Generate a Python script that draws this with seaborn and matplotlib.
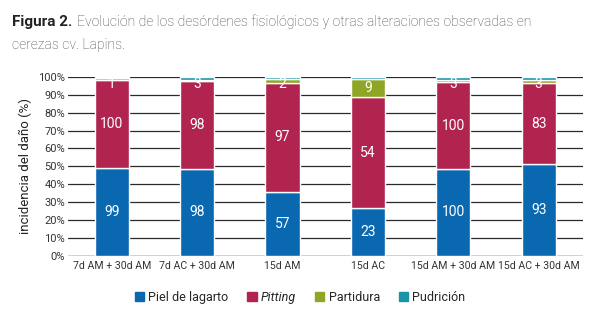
import matplotlib
matplotlib.use("Agg")
import matplotlib.pyplot as plt
import seaborn as sns
import pandas as pd
import numpy as np

categories = ["7d AM + 30d AM", "7d AC + 30d AM", "15d AM", "15d AC",
              "15d AM + 30d AM", "15d AC + 30d AM"]
piel = [99, 98, 57, 23, 100, 93]
pitting = [100, 98, 97, 54, 100, 83]
partidura = [2, 2, 3, 9, 3, 3]
pudricion = [1, 3, 2, 1, 3, 3]
series_names = ["Piel de lagarto", "Pitting", "Partidura", "Pudrición"]
label_piel = ["99", "98", "57", "23", "100", "93"]
label_pitting = ["100", "98", "97", "54", "100", "83"]
label_partidura = ["", "", "", "9", "", ""]
label_pudricion = ["1", "3", "2", "", "3", "3"]
colors = ["#0a68b0", "#b0244f", "#8ea526", "#1a95a8"]

sns.set_style("white")
plt.rcParams["font.family"] = ["Roboto", "DejaVu Sans"]

df = pd.DataFrame({"cat": categories, "Piel de lagarto": piel, "Pitting": pitting,
                   "Partidura": partidura, "Pudrición": pudricion})
tot = df[series_names].sum(axis=1)
pct = df[series_names].div(tot, axis=0) * 100
pct["cat"] = categories

fig = plt.figure(figsize=(6, 3.33), dpi=100)
ax = fig.add_axes([0.113, 0.232, 0.858, 0.537])

labels_all = [label_piel, label_pitting, label_partidura, label_pudricion]
bottom = np.zeros(len(categories))
for i, s in enumerate(series_names):
    sns.barplot(data=pct, x="cat", y=s, order=categories, color=colors[i],
                width=0.4, bottom=bottom, ax=ax, saturation=1)
    cont = ax.containers[-1]
    top = bottom + pct[s].values
    for j, (rect, lab) in enumerate(zip(cont, labels_all[i])):
        if not lab:
            continue
        cx = rect.get_x() + rect.get_width() / 2
        if pct[s].values[j] < 6:
            ax.text(cx, top[j] - 0.3, lab, ha="center", va="top", color="white",
                    fontsize=10)
        else:
            ax.text(cx, bottom[j] + pct[s].values[j] / 2, lab, ha="center",
                    va="center", color="white", fontsize=10)
    bottom = top

ax.set_ylim(0, 100)
ax.set_xlim(-0.515, 5.515)
ax.set_yticks(np.arange(0, 101, 10))
ax.set_yticklabels([f"{v}%" for v in range(0, 101, 10)], fontsize=8, color="#333333")
ax.tick_params(axis="x", labelsize=7.6, colors="#333333", length=0, pad=4)
ax.tick_params(axis="y", length=0, pad=2)
ax.set_xlabel("")
ax.set_ylabel("incidencia del daño (%)", fontsize=9.5, color="#222222", labelpad=4)
for sp in ax.spines.values():
    sp.set_visible(False)
ax.set_axisbelow(True)
ax.yaxis.grid(True, color="#2a2a2a", linewidth=0.9)
ax.axhline(0, color="#999999", linewidth=1, zorder=0)

handles = [plt.Rectangle((0, 0), 1, 1, color=c) for c in colors]
leg = fig.legend(handles, series_names, loc="center", bbox_to_anchor=(0.5, 0.107),
                 ncol=4, frameon=False, fontsize=9, handlelength=0.75, handleheight=0.75,
                 handletextpad=0.35, columnspacing=1.5)
leg.get_texts()[1].set_style("italic")

fig.text(0.02, 0.934, "Figura 2.", fontsize=11, fontweight="bold", color="#222222",
         va="center", ha="left")
fig.text(0.128, 0.934, "Evolución de los desórdenes fisiológicos y otras alteraciones observadas en",
         fontsize=10.1, color="#4a4a4a", va="center", ha="left", fontweight="light")
fig.text(0.02, 0.865, "cerezas cv. Lapins.", fontsize=10.1, color="#4a4a4a", va="center",
         ha="left", fontweight="light")

fig.savefig("out.png", dpi=100)
